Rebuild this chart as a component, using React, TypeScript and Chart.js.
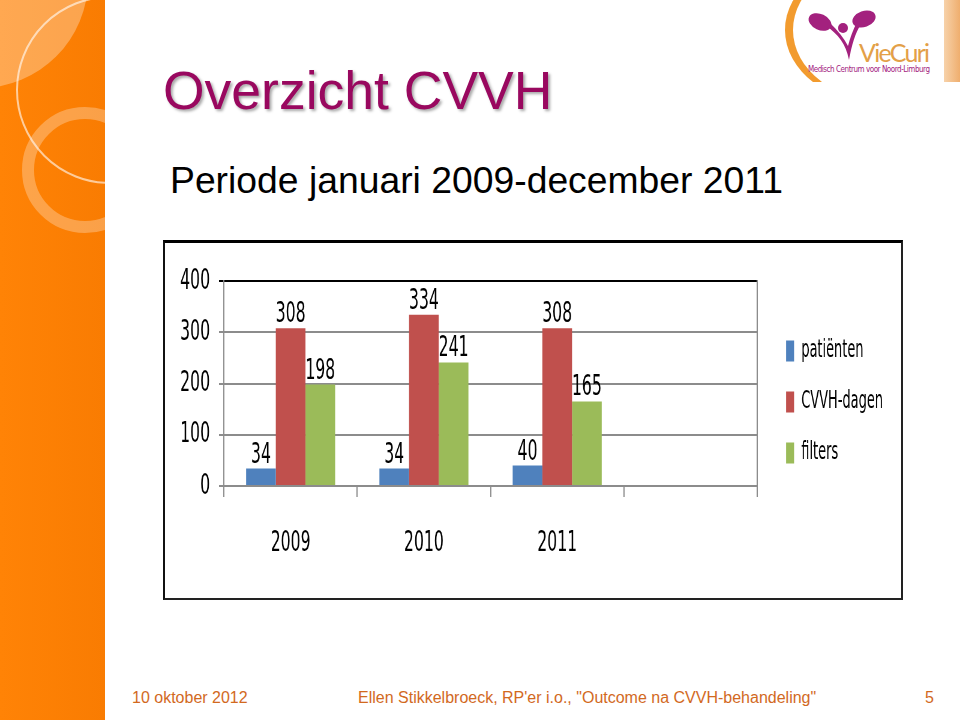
import React, { useEffect, useRef } from 'react';
import { Chart, registerables } from 'chart.js';

Chart.register(...registerables);

const categories = ['2009', '2010', '2011', ''];
const patienten = [34, 34, 40, null];
const cvvhDagen = [308, 334, 308, null];
const filters = [198, 241, 165, null];
const seriesNames = ['patiënten', 'CVVH-dagen', 'filters'];
const seriesColors = ['#4F81BD', '#C0504D', '#9BBB59'];
const yMin = 0;
const yMax = 400;
const yStep = 100;

const SX = 0.6;
const CW = 1227;
const CH = 355;
const FONT = "'Liberation Sans Narrow', 'DejaVu Sans Condensed', 'Arial Narrow', sans-serif";
const GRID = '#8C8C8C';
const TICK_SIZE = 29;

const valueLabels = {
  id: 'valueLabels',
  afterDatasetsDraw(chart: any) {
    const ctx = chart.ctx;
    ctx.save();
    ctx.font = `${TICK_SIZE}px ${FONT}`;
    ctx.fillStyle = '#000';
    ctx.textAlign = 'center';
    ctx.textBaseline = 'alphabetic';
    chart.data.datasets.forEach((ds: any, i: number) => {
      const meta = chart.getDatasetMeta(i);
      meta.data.forEach((el: any, j: number) => {
        const v = ds.data[j];
        if (v == null) return;
        ctx.fillText(String(v), el.x, el.y - 6);
      });
    });
    ctx.restore();
  },
};

function BarChart() {
  const ref = useRef<HTMLCanvasElement | null>(null);
  useEffect(() => {
    if (!ref.current) return;
    const values = [patienten, cvvhDagen, filters];
    const chart = new Chart(ref.current, {
      type: 'bar',
      data: {
        labels: categories,
        datasets: values.map((d, i) => ({
          label: seriesNames[i],
          data: d,
          backgroundColor: seriesColors[i],
          borderWidth: 0,
          categoryPercentage: 0.668,
          barPercentage: 1.0,
          yAxisID: 'y',
        })),
      },
      options: {
        animation: false,
        responsive: false,
        devicePixelRatio: 1,
        layout: { padding: { top: 38, left: 0, right: 20.3, bottom: 32 } },
        plugins: {
          legend: {
            position: 'right',
            align: 'start',
            title: {
              display: true,
              text: ' ',
              font: { size: 10 },
              padding: { top: 19, bottom: 0 },
            },
            labels: {
              boxWidth: 13.3,
              boxHeight: 21,
              padding: 27,
              color: '#000',
              font: { family: FONT, size: 24 },
            },
          },
          tooltip: { enabled: false },
        },
        scales: {
          x: {
            grid: {
              display: true,
              drawOnChartArea: false,
              drawTicks: true,
              tickLength: 11,
              color: GRID,
              lineWidth: 2,
              offset: true,
            },
            border: { display: true, color: GRID, width: 2 },
            ticks: { color: '#000', padding: 29, font: { family: FONT, size: TICK_SIZE } },
            afterFit: (s: any) => {
              s.height = 80;
            },
          },
          y: {
            min: yMin,
            max: yMax,
            ticks: { stepSize: yStep, color: '#000', padding: 15, font: { family: FONT, size: TICK_SIZE } },
            grid: {
              tickLength: 8.3,
              lineWidth: 2,
              color: (c: any) => (c.tick && c.tick.value === yMax ? '#000' : GRID),
            },
            border: { display: true, color: GRID, width: 2 },
            afterFit: (s: any) => {
              s.width = 98.3;
            },
          },
          y2: {
            type: 'linear',
            position: 'right',
            display: true,
            grid: { display: false },
            ticks: { display: false },
            border: { display: true, color: GRID, width: 2 },
            afterFit: (s: any) => {
              s.width = 21.3;
            },
          },
        },
      } as any,
      plugins: [valueLabels],
    });
    return () => chart.destroy();
  }, []);
  return <canvas ref={ref} width={CW} height={CH} />;
}

function Logo() {
  return (
    <svg
      width={180}
      height={90}
      style={{ position: 'absolute', left: 780, top: 0 }}
      viewBox="0 0 180 90"
    >
      <defs>
        <clipPath id="lc">
          <rect x={0} y={0} width={180} height={82} />
        </clipPath>
        <linearGradient id="ph" x1="0" x2="1" y1="0" y2="0">
          <stop offset="0" stopColor="#F7D2AA" />
          <stop offset="1" stopColor="#EFAE6E" />
        </linearGradient>
      </defs>
      <g clipPath="url(#lc)">
        <ellipse cx={105} cy={30} rx={100} ry={75} fill="#F29B2E" />
        <ellipse cx={110} cy={30} rx={97} ry={73} fill="#FFFFFF" />
        <rect x={164} y={0} width={16} height={82} fill="url(#ph)" />
      </g>
      <g fill="#A3217E">
        <ellipse cx={40} cy={22} rx={12} ry={8} transform="rotate(25 40 22)" />
        <ellipse cx={84} cy={19} rx={12} ry={8} transform="rotate(-20 84 19)" />
        <circle cx={63} cy={28} r={5} />
        <path d="M46 26 C58 34 66 44 69 60 C72 44 75 34 81 24 L77 22 C73 30 70 38 68 46 C64 38 58 31 50 23 Z" />
      </g>
      <text x={79} y={62} fontSize={25} fill="#E3A047" fontFamily="Lato, 'Open Sans', sans-serif" textLength={71}>
        VieCuri
      </text>
      <text x={28} y={72} fontSize={8} fill="#A3217E" fontFamily="'DejaVu Sans Condensed', sans-serif" textLength={122}>
        Medisch Centrum voor Noord-Limburg
      </text>
    </svg>
  );
}

export default function App() {
  return (
    <div
      style={{
        position: 'absolute',
        left: 0,
        top: 0,
        width: 960,
        height: 720,
        overflow: 'hidden',
        background: '#FFFFFF',
        fontFamily: "'Liberation Sans', Arial, sans-serif",
      }}
    >
      <div
        style={{
          position: 'absolute',
          left: 0,
          top: 0,
          width: 105,
          height: 720,
          overflow: 'hidden',
          background: 'linear-gradient(to right, #FF8306, #F97C02)',
        }}
      >
        <div
          style={{
            position: 'absolute',
            left: -128,
            top: -128,
            width: 216,
            height: 216,
            borderRadius: '50%',
            background: 'rgba(255,255,255,0.3)',
          }}
        />
        <div
          style={{
            position: 'absolute',
            left: 16,
            top: -4,
            width: 188,
            height: 188,
            borderRadius: '50%',
            boxSizing: 'border-box',
            border: '2px solid rgba(255,255,255,0.6)',
          }}
        />
        <div
          style={{
            position: 'absolute',
            left: 22,
            top: 107,
            width: 126,
            height: 126,
            borderRadius: '50%',
            boxSizing: 'border-box',
            border: '12px solid rgba(255,255,255,0.28)',
          }}
        />
      </div>

      <Logo />

      <div
        style={{
          position: 'absolute',
          left: 163,
          top: 64,
          fontSize: 53.5,
          lineHeight: 1,
          color: '#99085F',
          whiteSpace: 'nowrap',
          textShadow: '2px 2px 3px rgba(0,0,0,0.35)',
        }}
      >
        Overzicht CVVH
      </div>
      <div
        style={{
          position: 'absolute',
          left: 170,
          top: 162,
          fontSize: 37.3,
          lineHeight: 1,
          color: '#000',
          whiteSpace: 'nowrap',
        }}
      >
        Periode januari 2009-december 2011
      </div>

      <div
        style={{
          position: 'absolute',
          left: 163,
          top: 240,
          width: 740,
          height: 360,
          boxSizing: 'border-box',
          borderTop: '3px solid #000',
          borderLeft: '2px solid #111',
          borderRight: '2px solid #222',
          borderBottom: '2px solid #222',
          background: '#FFF',
          overflow: 'hidden',
        }}
      >
        <div
          style={{
            position: 'absolute',
            left: 0,
            top: 0,
            width: CW,
            height: CH,
            transform: `scaleX(${SX})`,
            transformOrigin: '0 0',
          }}
        >
          <BarChart />
        </div>
      </div>

      <div style={{ position: 'absolute', left: 132, top: 689.5, fontSize: 16, lineHeight: 1, color: '#D2691E', whiteSpace: 'nowrap' }}>
        10 oktober 2012
      </div>
      <div style={{ position: 'absolute', left: 358, top: 689.5, fontSize: 16, lineHeight: 1, color: '#D2691E', whiteSpace: 'nowrap' }}>
        Ellen Stikkelbroeck, RP'er i.o., "Outcome na CVVH-behandeling"
      </div>
      <div style={{ position: 'absolute', left: 925, top: 689.5, fontSize: 16, lineHeight: 1, color: '#D2691E', whiteSpace: 'nowrap' }}>
        5
      </div>
    </div>
  );
}
